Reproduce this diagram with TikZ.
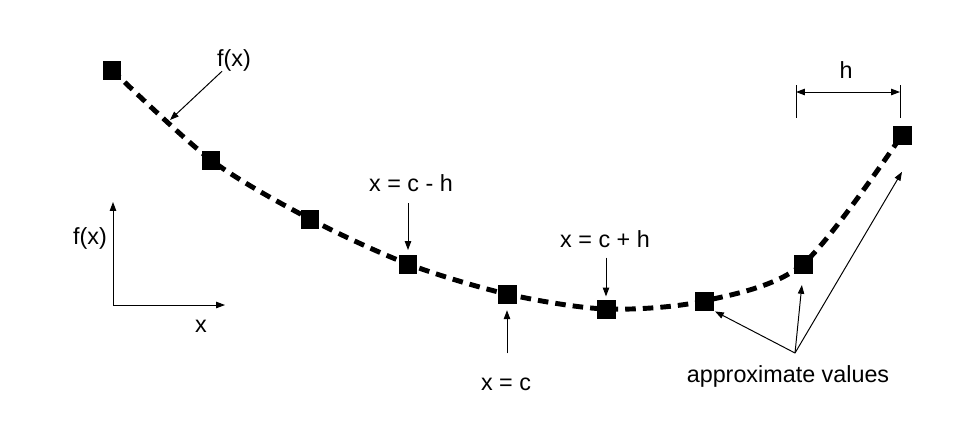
\documentclass[tikz,border=0pt]{standalone}
\usepackage{fontspec}
\setmainfont{Liberation Sans}
\usepackage{tikz}
\usetikzlibrary{arrows.meta, calc}

\begin{document}
\begin{tikzpicture}[x=0.025cm, y=-0.025cm,
  every node/.style={font=\fontsize{16.6}{20}\selectfont, inner sep=0pt},
  >={Triangle[length=2.2mm, width=1.6mm]},
  sample/.style={fill=black, minimum size=13.5pt, inner sep=0pt},
  curve/.style={line width=3.5pt, dash pattern=on 7.5pt off 5pt},
  ptr/.style={->, line width=0.7pt},
  tick/.style={line width=0.7pt}]

\useasboundingbox (0,0) rectangle (978,424);

% Sample points
\coordinate (c1) at (112,70);
\coordinate (c2) at (211,160);
\coordinate (c3) at (310,219);
\coordinate (c4) at (408,264);
\coordinate (c5) at (507,294);
\coordinate (c6) at (606,309);
\coordinate (c7) at (704,301);
\coordinate (c8) at (803,264);
\coordinate (c9) at (902,135);

% Curve f(x)
\draw[curve] plot[smooth] coordinates {(c1) (c2) (c3) (c4) (c5) (c6) (c7) (c8) (c9)};
\foreach \i in {1,...,9}
  \node[sample] (s\i) at (c\i) {};

% Label of the curve
\node (fx) at (234,60) {f(x)};
\coordinate (fxtip) at (170,120);
\draw[ptr] (fx) -- (fxtip);

% Step width h
\coordinate (hl) at (796,85);
\coordinate (hr) at (900,85);
\draw[tick] (hl) -- ++(0,33);
\draw[tick] (hr) -- ++(0,33);
\draw[ptr, <->] ($(hl)+(0,7)$) -- ($(hr)+(0,7)$);
\node (h) at (846,70) {h};

% Axes
\coordinate (o) at (113,305);
\coordinate (ytop) at (113,202);
\coordinate (xend) at (225,305);
\draw[ptr] (o) -- (ytop);
\draw[ptr] (o) -- (xend);
\node (ylab) at (90,238) {f(x)};
\node (xlab) at (201,326) {x};

% Points around c
\node (cmh) at (411,183) {x = c - h};
\draw[ptr, shorten <=8pt, shorten >=3pt] (cmh.south -| s4) -- (s4.north);
\node (cph) at (605,239) {x = c + h};
\draw[ptr, shorten <=7pt, shorten >=2pt] (cph.south -| s6) -- (s6.north);
\node (xc) at (506,384) {x = c};
\draw[ptr, shorten <=17pt, shorten >=4.6pt] (xc.north -| s5) -- (s5.south);

% Approximate values
\node (av) at (788,376) {approximate values};
\coordinate (apx) at (795,353);
\draw[ptr, shorten >=1pt] (apx) -- (s7.south east);
\draw[ptr, shorten >=8pt] (apx) -- (s8.south);
\draw[ptr] (apx) -- ($(s9.south)+(0,27)$);

\end{tikzpicture}
\end{document}
